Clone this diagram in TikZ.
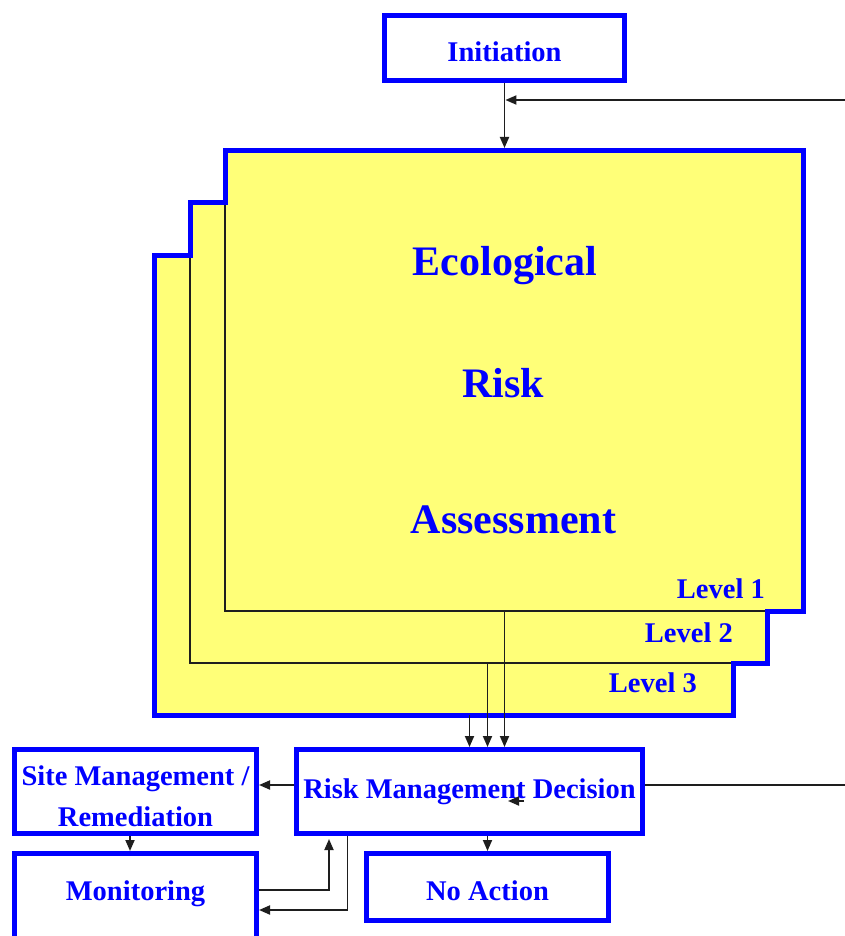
\documentclass[tikz,border=0pt]{standalone}
\usepackage{fontspec}
\setmainfont{Liberation Serif}
\usetikzlibrary{arrows.meta}
\definecolor{boxblue}{RGB}{0,0,255}
\definecolor{paleyellow}{RGB}{255,255,120}
\definecolor{wirecol}{RGB}{30,30,30}
\newcommand\lblfont{\fontsize{28.5}{41}\selectfont\bfseries}
\newcommand\bigfnt{\fontsize{42}{50}\selectfont\bfseries}
\begin{document}
\begin{tikzpicture}[x=1pt,y=-1pt,
  box/.style={draw=boxblue, line width=5pt, fill=white, inner sep=0pt,
    rectangle, font=\lblfont, text=boxblue},
  sheet/.style={draw=wirecol, line width=1.4pt, fill=paleyellow,
    inner sep=0pt, outer sep=0pt, rectangle},
  wire/.style={draw=wirecol, line width=1.8pt},
  arr/.style={wire, -{Triangle[length=11pt,width=9pt]}},
  big/.style={font=\bigfnt, text=boxblue, inner sep=0pt, anchor=base},
  lvl/.style={font=\lblfont, text=boxblue, inner sep=0pt, anchor=base east}]

\useasboundingbox (0,0) rectangle (845,936);
\clip (0,0) rectangle (845,936);
\fill[white] (0,0) rectangle (845,936);

% stacked assessment sheets, back to front
\node[sheet, minimum width=578.5pt, minimum height=460pt]   (L3) at (443.75,485) {};
\node[sheet, minimum width=577pt,   minimum height=460.5pt] (L2) at (478.5,432.75) {};
\node[sheet, minimum width=578pt,   minimum height=460.5pt] (L1) at (514,380.75) {};

% blue outline around the whole stack
\draw[boxblue, line width=5pt, line join=miter]
  (L3.south west) -- (L3.north west) -- (L3.north west -| L2.west)
  -- (L2.north west) -- (L2.north west -| L1.west) -- (L1.north west)
  -- (L1.north east) -- (L1.south east) -- (L1.south east -| L2.east)
  -- (L2.south east) -- (L2.south east -| L3.east) -- (L3.south east) -- cycle;

\node[big] (eco)    at (505,275)   {Ecological};
\node[big] (risk)   at (503.5,397) {Risk};
\node[big] (assess) at (513.5,533) {Assessment};

\node[lvl] (lv1) at (765,598) {Level 1};
\node[lvl] (lv2) at (733,642) {Level 2};
\node[lvl] (lv3) at (697,692) {Level 3};

% process boxes
\node[box, minimum width=240pt, minimum height=65pt, text height=27pt, text depth=0pt]
  (Init) at (504.5,48) {Initiation};
\node[box, minimum width=346pt, minimum height=84pt, text height=19pt, text depth=6pt]
  (RMD) at (469.5,791.5) {Risk Management Decision};
\node[box, minimum width=242pt, minimum height=84pt, align=center]
  (SMR) at (135.5,791.5) {\rule{0pt}{30pt}Site Management /\\Remediation};
\node[box, minimum width=242pt, minimum height=87.5pt, text height=19pt, text depth=13.5pt]
  (Mon) at (135.5,897.25) {Monitoring};
\node[box, minimum width=242pt, minimum height=67pt, text height=26pt, text depth=0pt]
  (NoA) at (487.5,887) {No Action};

% connectors
\coordinate (fbin)  at (845,100);
\coordinate (fbout) at (845,785);
\coordinate (mr)    at (329,890);
\coordinate (rm)    at (347.5,910);
\coordinate (tipA)  at (524,801);
\coordinate (tipB)  at (508,801);

\draw[arr, shorten >=2.5pt] (Init.south) -- (L1.north -| Init.south);
\draw[arr, shorten >=0.9pt] (fbin) -- (fbin -| Init.south);

\draw[arr] (L1.south -| Init.south) -- (RMD.north -| Init.south);
\draw[arr] (L2.south -| NoA.north) -- (RMD.north -| NoA.north);
\draw[arr] (L3.south -| RMD.north) -- (RMD.north);

\draw[wire] (fbout) -- (RMD.east |- fbout);
\draw[arr] (RMD.west |- fbout) -- (SMR.east |- fbout);
\draw[arr] (tipA) -- (tipB);

\draw[arr] ([xshift=-5.5pt]SMR.south) -- ([xshift=-5.5pt]Mon.north);
\draw[arr] (RMD.south -| NoA.north) -- (NoA.north);

\draw[arr, shorten >=3pt] (Mon.east |- mr) -- (mr) -- (mr |- RMD.south);
\draw[arr] (RMD.south -| rm) -- (rm) -- (Mon.east |- rm);
\end{tikzpicture}
\end{document}
